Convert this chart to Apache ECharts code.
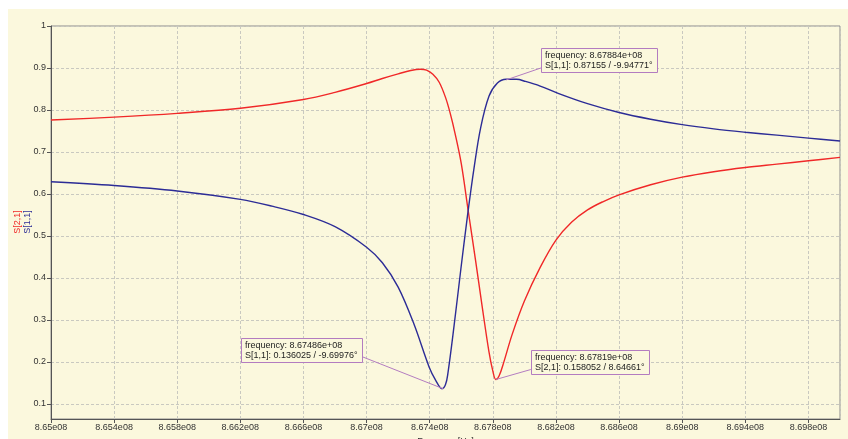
<!DOCTYPE html>
<html>
<head>
<meta charset="utf-8">
<script src="https://cdn.jsdelivr.net/npm/echarts@6/dist/echarts.min.js"></script>
<style>
  html, body { margin: 0; padding: 0; background: #ffffff; }
  #bg { position: absolute; left: 8px; top: 9px; width: 840px; height: 430px; background: #fbf8dd; }
  #chart { position: absolute; left: 0; top: 0; width: 848px; height: 439px; }
</style>
</head>
<body>
<div id="bg"></div>
<div id="chart"></div>
<script>
// ---- data (frequencies in MHz, magnitudes linear) ----
const startMHz = 865.0;
const s21FreqMHz = [865.0, 865.4, 865.8, 866.2, 866.6, 866.8, 867.0, 867.1, 867.2, 867.28, 867.34, 867.38, 867.42, 867.46, 867.50, 867.53, 867.56, 867.60, 867.645, 867.69, 867.732, 867.775, 867.80, 867.819, 867.84, 867.87, 867.922, 868.0, 868.1, 868.2, 868.3, 868.4, 868.5, 868.6, 868.8, 869.0, 869.2, 869.4, 869.6, 869.8, 870.0];
const s21Mag     = [0.776, 0.783, 0.792, 0.804, 0.825, 0.842, 0.863, 0.875, 0.886, 0.894, 0.897, 0.895, 0.885, 0.866, 0.830, 0.792, 0.745, 0.672, 0.557, 0.443, 0.333, 0.225, 0.178, 0.158, 0.167, 0.200, 0.265, 0.345, 0.425, 0.490, 0.533, 0.562, 0.582, 0.598, 0.622, 0.640, 0.653, 0.663, 0.671, 0.679, 0.687];
const s11FreqMHz = [865.0, 865.4, 865.8, 866.2, 866.4, 866.6, 866.8, 867.0, 867.1, 867.2, 867.3, 867.396, 867.438, 867.478, 867.50, 867.515, 867.555, 867.597, 867.639, 867.681, 867.723, 867.776, 867.829, 867.884, 867.95, 868.007, 868.1, 868.218, 868.4, 868.6, 868.8, 869.0, 869.2, 869.4, 869.6, 869.8, 870.0];
const s11Mag     = [0.629, 0.620, 0.607, 0.587, 0.571, 0.551, 0.522, 0.473, 0.436, 0.378, 0.290, 0.188, 0.156, 0.136, 0.146, 0.172, 0.288, 0.420, 0.547, 0.662, 0.758, 0.833, 0.864, 0.873, 0.873, 0.868, 0.857, 0.839, 0.815, 0.794, 0.778, 0.765, 0.755, 0.747, 0.740, 0.733, 0.726];

// markers
const markerFreqHz = [867884000, 867486000, 867819000];
const markerParam  = ['S[1,1]', 'S[1,1]', 'S[2,1]'];
const markerMag    = [0.87155, 0.136025, 0.158052];
const markerPhase  = [-9.94771, -9.69976, 8.64661];

const seriesNames = ['S[2,1]', 'S[1,1]'];
const xAxisName = 'Frequenz [Hz]';

// ---- build ----
const FONT = '"Liberation Sans", Arial, sans-serif';
const startHz = startMHz * 1e6;
const toData = (fs, ms) => fs.map((f, i) => [Math.round(f * 1e6 - startHz), ms[i]]);

const chart = echarts.init(document.getElementById('chart'), null, { renderer: 'canvas' });

const option = {
  backgroundColor: 'transparent',
  animation: false,
  grid: { left: 51, top: 26, right: 8, bottom: 20, outerBoundsMode: 'none', containLabel: false,
          show: true, borderColor: '#8c8c8c', borderWidth: 1, backgroundColor: 'transparent' },
  xAxis: {
    type: 'value', min: 0, max: 5e6, interval: 4e5,
    name: xAxisName, nameLocation: 'middle', nameGap: 15,
    nameTextStyle: { fontFamily: FONT, fontSize: 9, color: '#333' },
    axisLine: { lineStyle: { color: '#555', width: 1 } },
    axisTick: { show: true, length: 4, lineStyle: { color: '#555' } },
    axisLabel: {
      fontFamily: FONT, fontSize: 9, color: '#333', margin: 4, showMaxLabel: false,
      formatter: v => parseFloat(((startHz + v) / 1e8).toFixed(4)).toString() + 'e08'
    },
    splitLine: { show: true, lineStyle: { color: '#c9c9c0', type: [3, 2], width: 1 } }
  },
  yAxis: {
    type: 'value', min: 0.064, max: 1, splitNumber: 9,
    axisLine: { show: true, lineStyle: { color: '#555', width: 1 } },
    axisTick: { show: true, length: 4, lineStyle: { color: '#555' } },
    axisLabel: {
      fontFamily: FONT, fontSize: 9, color: '#333', margin: 5, showMinLabel: false,
      formatter: v => parseFloat(v.toFixed(2)).toString()
    },
    splitLine: { show: true, lineStyle: { color: '#c9c9c0', type: [3, 2], width: 1 } }
  },
  series: [
    { name: seriesNames[0], type: 'line', data: toData(s21FreqMHz, s21Mag), showSymbol: false, smooth: 0.35,
      lineStyle: { color: '#f02828', width: 1.4 }, itemStyle: { color: '#f02828' } },
    { name: seriesNames[1], type: 'line', data: toData(s11FreqMHz, s11Mag), showSymbol: false, smooth: 0.35,
      lineStyle: { color: '#2c2c96', width: 1.4 }, itemStyle: { color: '#2c2c96' } }
  ]
};
chart.setOption(option);

// ---- annotations ----
const measure = (() => {
  const c = document.createElement('canvas').getContext('2d');
  c.font = '9px ' + FONT;
  return t => c.measureText(t).width;
})();

const graphics = [];
graphics.push({ type: 'text', x: 18, y: 222, rotation: Math.PI / 2,
  style: { text: seriesNames[0], font: '9px ' + FONT, fill: '#f02828', align: 'center', verticalAlign: 'middle' } });
graphics.push({ type: 'text', x: 28, y: 222, rotation: Math.PI / 2,
  style: { text: seriesNames[1], font: '9px ' + FONT, fill: '#2c2c96', align: 'center', verticalAlign: 'middle' } });

const boxPlace = [
  { dx: 35, dy: -32, side: 'right' },
  { dx: -81, dy: -51, side: 'left' },
  { dx: 35, dy: -30, side: 'right' }
];
const boxH = 24;
markerFreqHz.forEach((f, i) => {
  const p = chart.convertToPixel({ gridIndex: 0 }, [f - startHz, markerMag[i]]);
  const l1 = 'frequency: ' + (f / 1e8).toFixed(5) + 'e+08';
  const l2 = markerParam[i] + ': ' + markerMag[i] + ' / ' + markerPhase[i] + '°';
  const w = Math.ceil(Math.max(measure(l1), measure(l2))) + 8;
  const pl = boxPlace[i];
  let left, top = p[1] + pl.dy;
  let lx, ly;
  if (pl.side === 'right') { left = p[0] + pl.dx; lx = left; ly = top + boxH - 4; }
  else { left = p[0] + pl.dx - w; lx = left + w; ly = top + boxH - 5; }
  graphics.push({ type: 'line', shape: { x1: lx, y1: ly, x2: p[0], y2: p[1] }, style: { stroke: '#b37cc0', lineWidth: 1 }, z: 10 });
  graphics.push({ type: 'rect', shape: { x: Math.round(left) + 0.5, y: Math.round(top) + 0.5, width: w, height: boxH },
    style: { fill: '#fbf8dd', stroke: '#b37cc0', lineWidth: 1 }, z: 11 });
  graphics.push({ type: 'text', x: Math.round(left) + 4, y: Math.round(top) + 2,
    style: { text: l1 + '\n' + l2, font: '9px ' + FONT, fill: '#222', lineHeight: 10.5, align: 'left', verticalAlign: 'top' }, z: 12 });
});
chart.setOption({ graphic: graphics });
</script>
</body>
</html>
